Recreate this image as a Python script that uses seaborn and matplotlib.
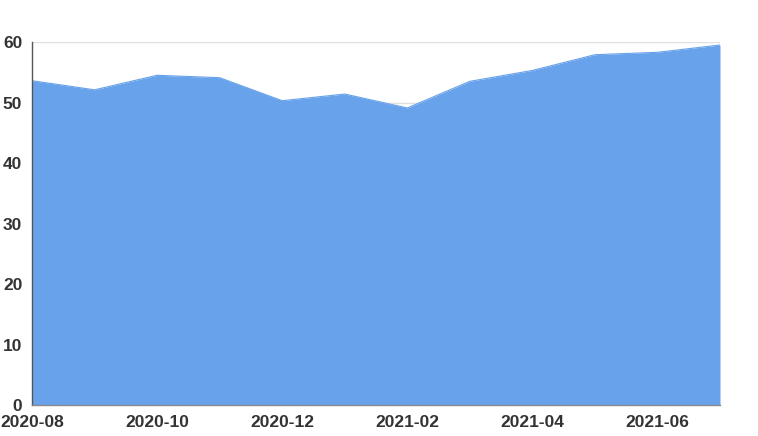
import matplotlib
matplotlib.use("Agg")
import matplotlib.pyplot as plt
import seaborn as sns
import pandas as pd

months = ["2020-08", "2020-09", "2020-10", "2020-11", "2020-12", "2021-01",
          "2021-02", "2021-03", "2021-04", "2021-05", "2021-06", "2021-07"]
values = [53.6, 52.1, 54.5, 54.1, 50.3, 51.4, 49.1, 53.5, 55.3, 57.9, 58.3, 59.5]
y_ticks = [0, 10, 20, 30, 40, 50, 60]

df = pd.DataFrame({"month": months, "value": values})
df["pos"] = range(len(df))

sns.set_theme(style="white")
plt.rcParams["font.family"] = ["Liberation Sans", "DejaVu Sans"]

fig = plt.figure(figsize=(7.58, 4.36), dpi=100)
ax = fig.add_axes([32 / 758, 1 - 405 / 436, (720 - 32) / 758, (405 - 42) / 436])

color = "#67a2ea"
sns.lineplot(data=df, x="pos", y="value", ax=ax, color=color, linewidth=0.8)
ax.fill_between(df["pos"], df["value"], 0, color=color, linewidth=0, zorder=2)

ax.set_xlim(0, len(df) - 1)
ax.set_ylim(0, 60)
ax.set_yticks(y_ticks)
ax.set_yticklabels([str(t) for t in y_ticks])
tick_pos = df["pos"][::2]
ax.set_xticks(tick_pos)
ax.set_xticklabels(df["month"][::2])
ax.set_xlabel("")
ax.set_ylabel("")

ax.grid(axis="y", color="#e0e0e0", linewidth=1, zorder=0)
ax.set_axisbelow(True)

for s in ["top", "right"]:
    ax.spines[s].set_visible(False)
ax.spines["left"].set_color("#555555")
ax.spines["left"].set_linewidth(1)
ax.spines["bottom"].set_color("#8a8a8a")
ax.spines["bottom"].set_linewidth(1)
ax.spines["bottom"].set_zorder(5)

ax.tick_params(axis="both", which="both", length=5, width=1, colors="#333333",
               labelsize=12.5, pad=2)
ax.tick_params(axis="x", color="#8a8a8a")
ax.tick_params(axis="y", color="#555555")
for lab in ax.get_xticklabels() + ax.get_yticklabels():
    lab.set_fontweight("bold")
    lab.set_color("#333333")

fig.savefig("out.png", dpi=100)
